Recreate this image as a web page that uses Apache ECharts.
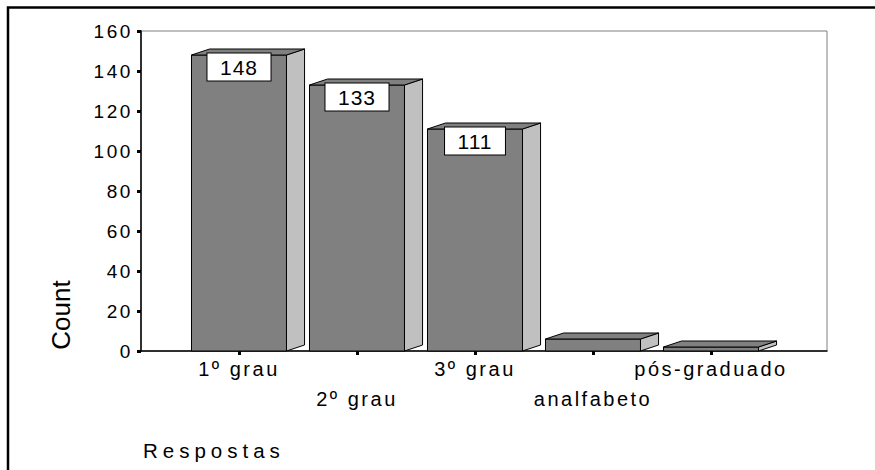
<!DOCTYPE html>
<html>
<head>
<meta charset="utf-8">
<script src="https://cdn.jsdelivr.net/npm/echarts@6/dist/echarts.min.js"></script>
<style>
  html, body { margin: 0; padding: 0; background: #fff; }
  #chart { width: 875px; height: 470px; }
  /* the original export draws its text with wide letter spacing */
  #chart text[style*="19px"] { letter-spacing: 2.6px; }
  #chart text[style*="20px"] { letter-spacing: 2.5px; }
  #chart text[style*="20.5px"] { letter-spacing: 5px; }
  #chart text[style*="21px"] { letter-spacing: 1px; }
</style>
</head>
<body>
<div id="chart"></div>
<script>
// Respostas (education level) and their counts
const categories = ['1º grau', '2º grau', '3º grau', 'analfabeto', 'pós-graduado'];
const counts = [148, 133, 111, 6, 2];
const yTicks = { min: 0, max: 160, interval: 20 };

const FONT = 'Liberation Sans, Arial, sans-serif';

// 3D-looking bar: front face, right side, top face, value box
function renderBar(params, api) {
    const i = api.value(0);
    const v = api.value(1);
    const top = api.coord([i, v]);
    const base = api.coord([i, 0]);
    const band = api.size([1, 0])[0];
    const w = band * 0.805;
    const dx = band * 0.153;
    const dy = 6;
    const x0 = top[0] - w / 2, x1 = x0 + w;
    const yt = top[1], yb = base[1];
    const edge = { stroke: '#000', lineWidth: 1 };

    const children = [
        { type: 'rect', shape: { x: x0, y: yt, width: w, height: yb - yt },
          style: Object.assign({ fill: '#808080' }, edge) },
        { type: 'polygon', shape: { points: [[x1, yb], [x1 + dx, yb - dy], [x1 + dx, yt - dy], [x1, yt]] },
          style: Object.assign({ fill: '#c0c0c0' }, edge) },
        { type: 'polygon', shape: { points: [[x0, yt], [x1, yt], [x1 + dx, yt - dy], [x0 + dx, yt - dy]] },
          style: Object.assign({ fill: '#808080' }, edge) }
    ];
    if (v >= 20) {
        children.push({
            type: 'text', x: top[0], y: yt - 1.5,
            style: {
                text: String(v), font: '21px ' + FONT, fill: '#000',
                align: 'center', verticalAlign: 'top',
                backgroundColor: '#fff', borderColor: '#000', borderWidth: 1,
                padding: [3, 14]
            }
        });
    }
    return { type: 'group', children: children };
}

const chart = echarts.init(document.getElementById('chart'), null, { renderer: 'svg' });

chart.setOption({
    animation: false,
    backgroundColor: '#fff',
    textStyle: { fontFamily: FONT },
    grid: [
        // bars
        { left: 180, right: 105, top: 31, bottom: 119 },
        // plot frame with the value axis
        { left: 141, right: 48, top: 31, bottom: 119, show: true,
          borderColor: '#808080', borderWidth: 1, backgroundColor: 'transparent' }
    ],
    xAxis: [
        {
            type: 'category', gridIndex: 0, data: categories,
            axisLine: { show: false },
            axisTick: { show: true, alignWithLabel: true, length: 4, lineStyle: { color: '#000', width: 3 } },
            axisLabel: {
                interval: 0, margin: 3, fontSize: 20, color: '#000', lineHeight: 30,
                formatter: (val, idx) => (idx % 2 ? '\n' + val : val)
            },
            z: 6
        },
        {
            type: 'value', gridIndex: 1, min: 0, max: 1,
            axisLine: { show: true, lineStyle: { color: '#000', width: 1.5 } },
            axisTick: { show: false }, axisLabel: { show: false }, splitLine: { show: false }
        }
    ],
    yAxis: [
        { type: 'value', gridIndex: 0, min: yTicks.min, max: yTicks.max, interval: yTicks.interval, show: false },
        {
            type: 'value', gridIndex: 1, min: yTicks.min, max: yTicks.max, interval: yTicks.interval,
            axisLine: { show: true, lineStyle: { color: '#000', width: 1.5 } },
            axisTick: { show: true, length: 4, lineStyle: { color: '#000', width: 3 } },
            axisLabel: { margin: 8, fontSize: 19, color: '#000', padding: [4, 0, 0, 0] },
            splitLine: { show: false }
        }
    ],
    series: [{
        type: 'custom',
        xAxisIndex: 0, yAxisIndex: 0,
        renderItem: renderBar,
        data: counts.map((c, i) => [i, c]),
        z: 5
    }],
    graphic: [
        { type: 'polyline', shape: { points: [[8, 470], [8, 7.5], [875, 7.5]] },
          style: { stroke: '#000', lineWidth: 2.5, fill: null }, z: 10 },
        { type: 'text', x: 61, y: 315, rotation: Math.PI / 2,
          style: { text: 'Count', font: '26px ' + FONT, fill: '#000', align: 'center', verticalAlign: 'middle' } },
        { type: 'text', x: 143, y: 450,
          style: { text: 'Respostas', font: '20.5px ' + FONT, fill: '#000', align: 'left', verticalAlign: 'middle' } }
    ]
});
</script>
</body>
</html>
